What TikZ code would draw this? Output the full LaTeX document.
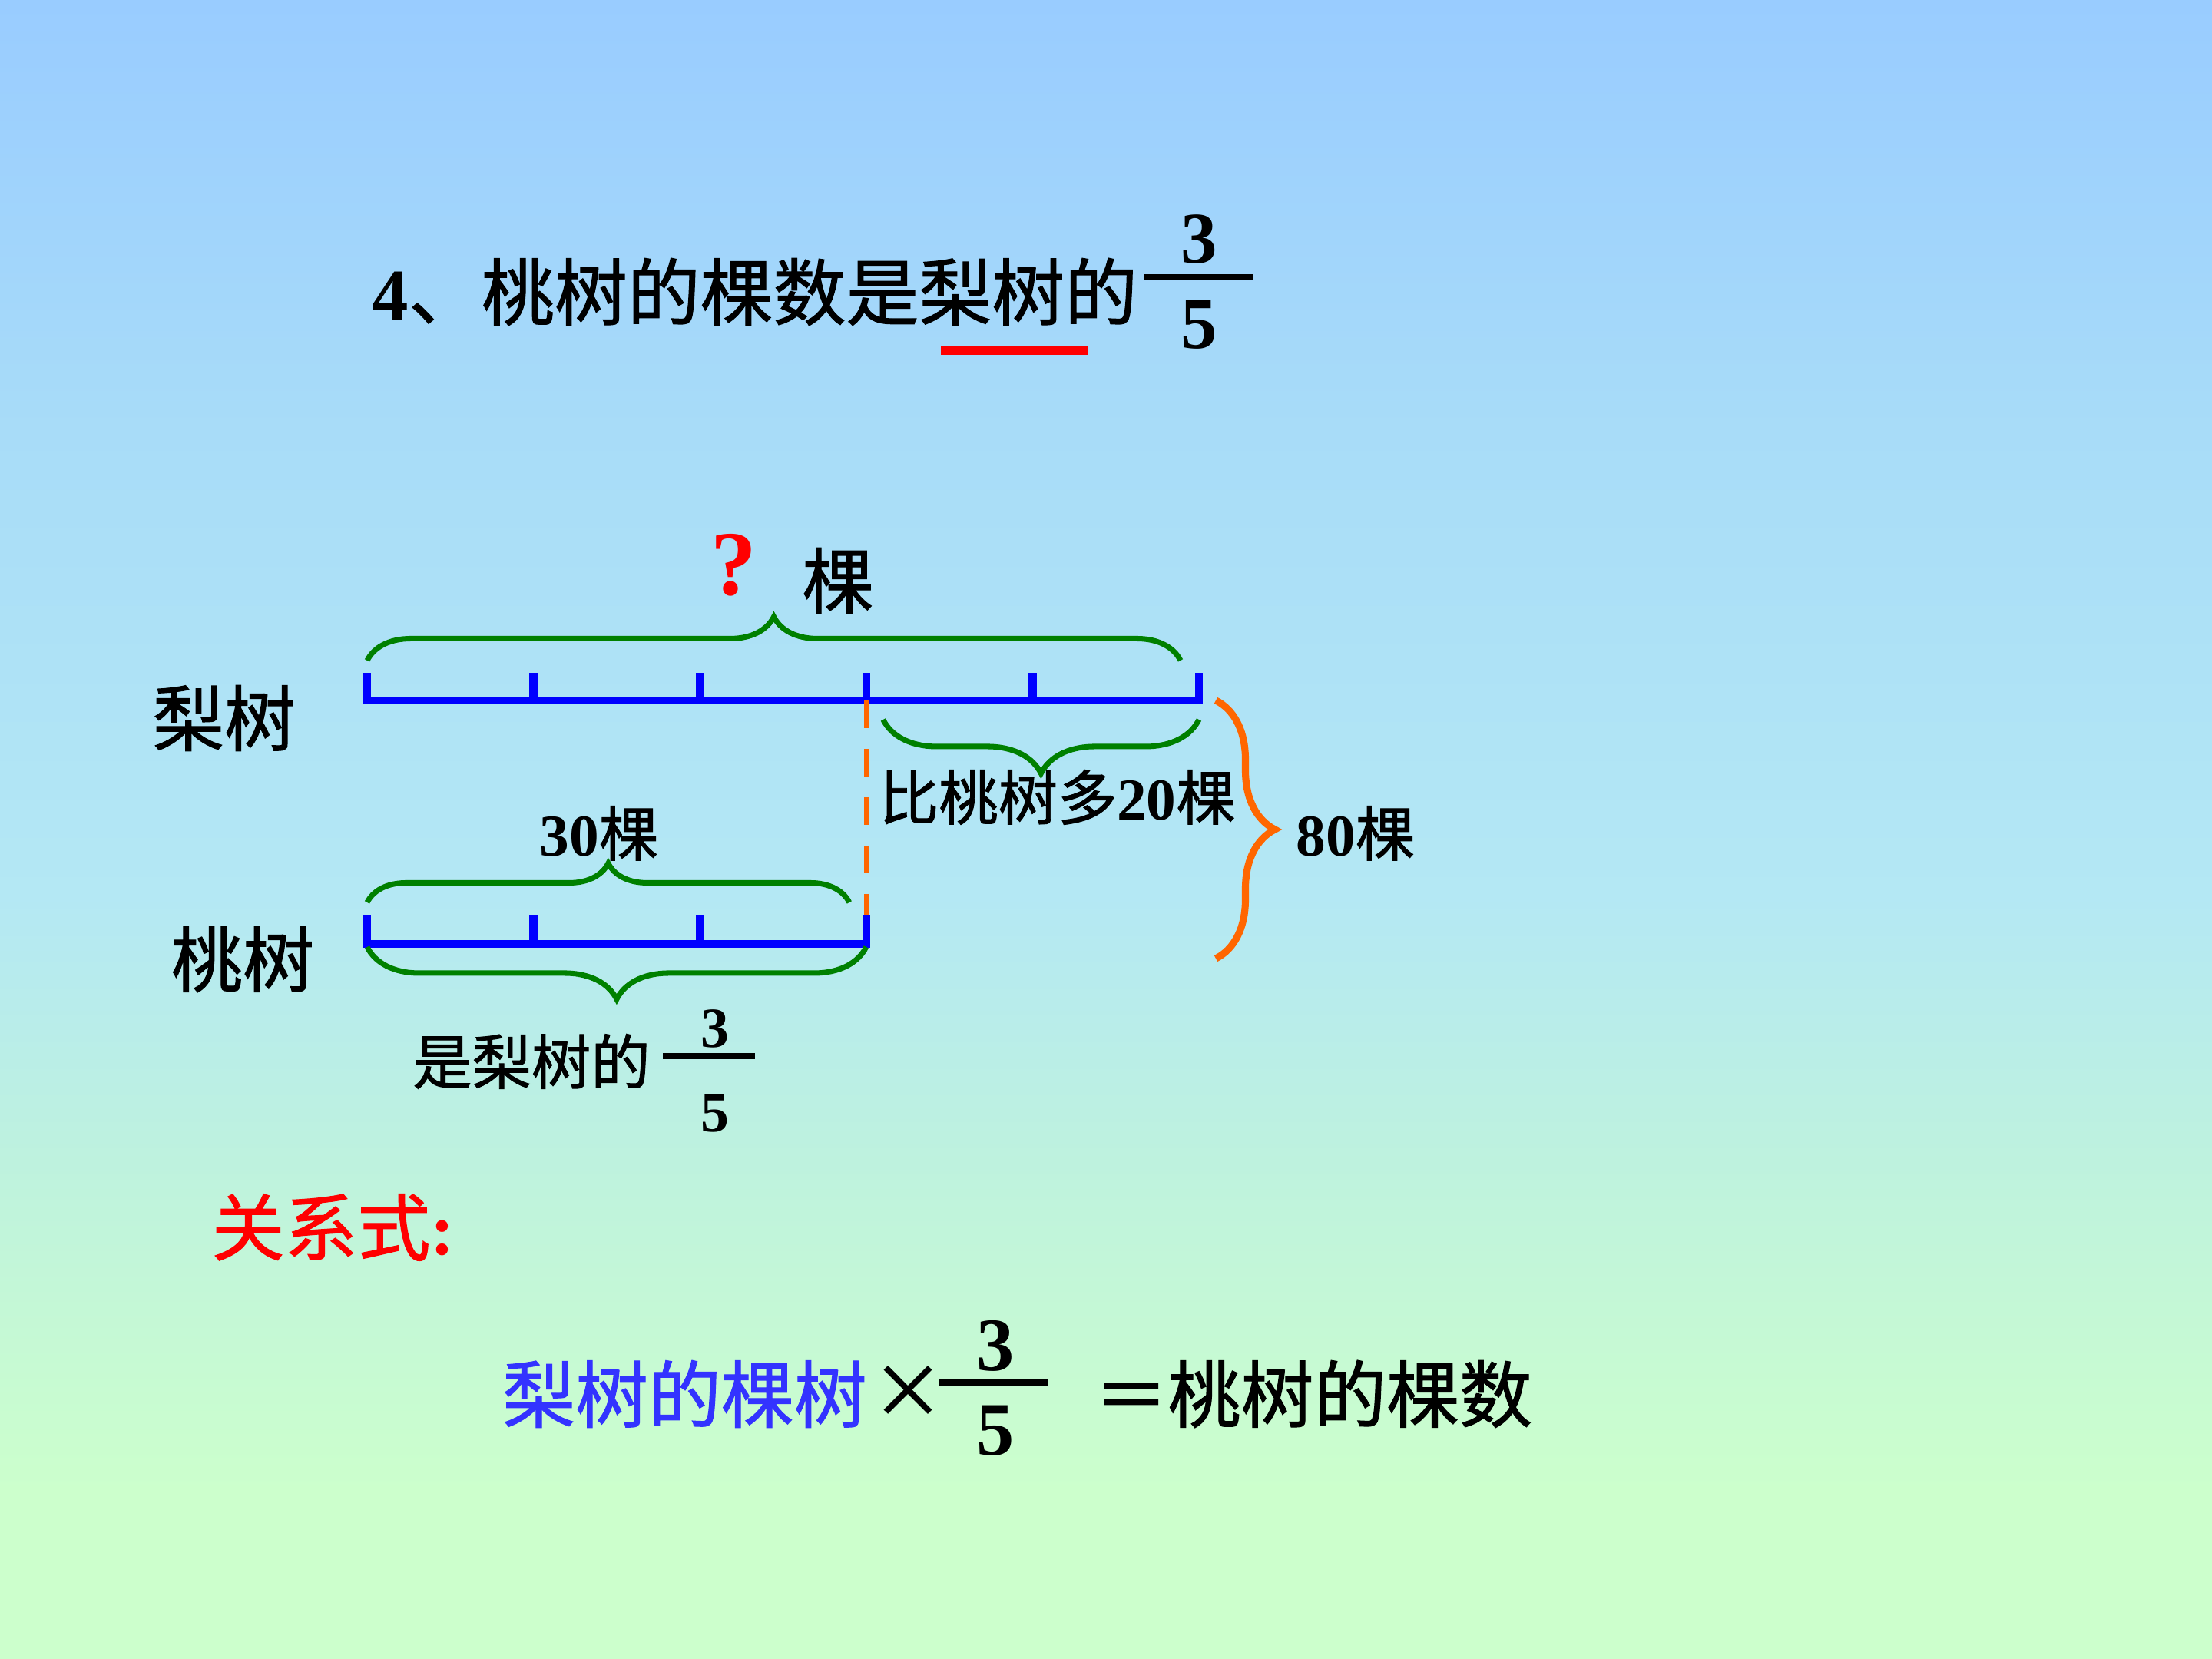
\documentclass[tikz,border=0pt]{standalone}
\usepackage{fontspec}
\setmainfont{Liberation Serif}
\newfontfamily\cjk{Noto Sans CJK SC}[FakeBold=1.2]
\usetikzlibrary{decorations.pathreplacing,positioning}
\usepackage{xcolor}
\definecolor{slidetop}{HTML}{99CCFF}
\definecolor{slidesky}{HTML}{A8DCF8}
\definecolor{slidecyan}{HTML}{B4E8F4}
\definecolor{slidemint}{HTML}{BEF2DE}
\definecolor{slidegreen}{HTML}{CCFFCC}
\definecolor{barblue}{HTML}{0000FF}
\definecolor{bracegreen}{HTML}{008000}
\definecolor{braceorange}{HTML}{FF6600}
\definecolor{textblue}{HTML}{3333FF}
\definecolor{markred}{HTML}{FF0000}
\pgfdeclareverticalshading{slideshade}{100bp}{color(0bp)=(slidegreen); color(30bp)=(slidegreen); color(40bp)=(slidemint); color(48bp)=(slidecyan); color(62bp)=(slidesky); color(75bp)=(slidetop); color(100bp)=(slidetop)}
\newcommand\nb[1]{{\rmfamily\bfseries #1}}
\tikzset{
  bigtext/.style={
    inner sep=0pt,
    font=\cjk\fontsize{26.5}{30}\selectfont
  },
  midtext/.style={
    inner sep=0pt,
    font=\cjk\fontsize{22}{26}\selectfont
  },
  eqtext/.style={
    inner sep=0pt,
    font=\cjk\fontsize{27}{31}\selectfont
  },
  fracdigit/.style={
    inner sep=0pt,
    font=\rmfamily\bfseries\fontsize{27}{31}\selectfont
  },
  smalldigit/.style={
    inner sep=0pt,
    font=\rmfamily\bfseries\fontsize{21}{24}\selectfont
  },
  fracbar/.style={
    line width=2.3pt,
    draw=black
  },
  bar/.style={
    line width=3.1pt,
    draw=barblue
  },
  tickmark/.style={
    line width=3pt,
    draw=barblue
  },
  greenbrace/.style={
    decorate,
    line width=2pt,
    draw=bracegreen
  },
  orangebrace/.style={
    decorate,
    line width=2.6pt,
    draw=braceorange
  },
  dashline/.style={
    line width=1.8pt,
    draw=braceorange,
    dash pattern=on 0.36cm off 0.27cm
  }
}

\begin{document}
\begin{tikzpicture}
\useasboundingbox (0,0) rectangle (28.8,21.6);
\shade[shading=slideshade] (0,0) rectangle (28.8,21.6);

% title
\node[bigtext, anchor=west, font=\cjk\fontsize{27}{31}\selectfont] (title) at (4.84,17.80)
  {{\rmfamily\bfseries\fontsize{27}{31}\selectfont 4}、桃树的棵数是梨树的};
\node[fracdigit] (tnum) at (15.61,18.48) {3};
\node[fracdigit] (tden) at (15.61,17.37) {5};
\draw[fracbar] (14.90,17.99) -- (16.32,17.99);
\draw[line width=3.4pt, markred] (12.25,17.04) -- (14.16,17.04);

% pear trees
\foreach \i in {0,...,5}
  \coordinate (p\i) at ({4.78+2.166*\i},12.48);
\draw[bar] (p0) -- (p5);
\foreach \i in {0,...,5}
  \draw[tickmark] ([yshift=-0.05cm]p\i) -- ++(0,0.41);
\node[bigtext] (pear) at (2.92,12.25) {梨树};

% peach trees
\foreach \i in {0,...,3}
  \coordinate (q\i) at ({4.78+2.166*\i},9.31);
\draw[bar] (q0) -- (q3);
\foreach \i in {0,...,3}
  \draw[tickmark] ([yshift=-0.05cm]q\i) -- ++(0,0.43);
\node[bigtext] (peach) at (3.16,9.11) {桃树};

\draw[dashline] (p3) -- ([yshift=0.38cm]q3);

% braces
\draw[greenbrace, decoration={brace, amplitude=0.57cm}]
  ([yshift=0.52cm]p0) -- ([xshift=-0.24cm, yshift=0.52cm]p5);
\node[font=\rmfamily\bfseries\fontsize{34}{38}\selectfont, text=markred, inner sep=0pt] (ask) at (9.55,14.24) {?};
\node[bigtext] (askunit) at (10.91,14.04) {棵};

\draw[greenbrace, decoration={brace, amplitude=0.70cm}]
  ([yshift=-0.25cm]p5) -- ([xshift=0.22cm, yshift=-0.25cm]p3);
\node[midtext] (more) at (13.77,11.22) {比桃树多\nb{20}棵};

\coordinate (otop) at ([xshift=0.22cm]p5);
\coordinate (obot) at (15.83,9.12);
\draw[orangebrace, decoration={brace, amplitude=0.77cm}] (otop) -- (obot);
\node[midtext, anchor=west] (total) at (16.87,10.75) {\nb{80}棵};

\draw[greenbrace, decoration={brace, amplitude=0.51cm}]
  ([yshift=0.54cm]q0) -- ([xshift=-0.22cm, yshift=0.54cm]q3);
\node[midtext] (peachnum) at (7.80,10.75) {\nb{30}棵};

\draw[greenbrace, decoration={brace, amplitude=0.68cm}]
  ([yshift=-0.04cm]q3) -- ([yshift=-0.04cm]q0);
\node[midtext] (part) at (6.92,7.78) {是梨树的};
\node[smalldigit] (pnum) at (9.31,8.21) {3};
\node[smalldigit] (pden) at (9.31,7.10) {5};
\draw[fracbar] (8.63,7.85) -- (9.83,7.85);

% relation
\node[eqtext, anchor=west, text=markred] (rel) at (2.75,5.62) {关系式\nb{:}};
\node[eqtext, text=textblue] (lhs) at (8.915,3.45) {梨树的棵树};
\node[eqtext] (times) at (11.82,3.48) {×};
\node[fracdigit, font=\rmfamily\bfseries\fontsize{28}{32}\selectfont] (enum) at (12.96,4.08) {3};
\node[fracdigit, font=\rmfamily\bfseries\fontsize{28}{32}\selectfont] (eden) at (12.96,2.97) {5};
\draw[fracbar] (12.22,3.60) -- (13.65,3.60);
\node[eqtext, anchor=west] (rhs) at (14.25,3.45) {＝桃树的棵数};
\end{tikzpicture}
\end{document}
